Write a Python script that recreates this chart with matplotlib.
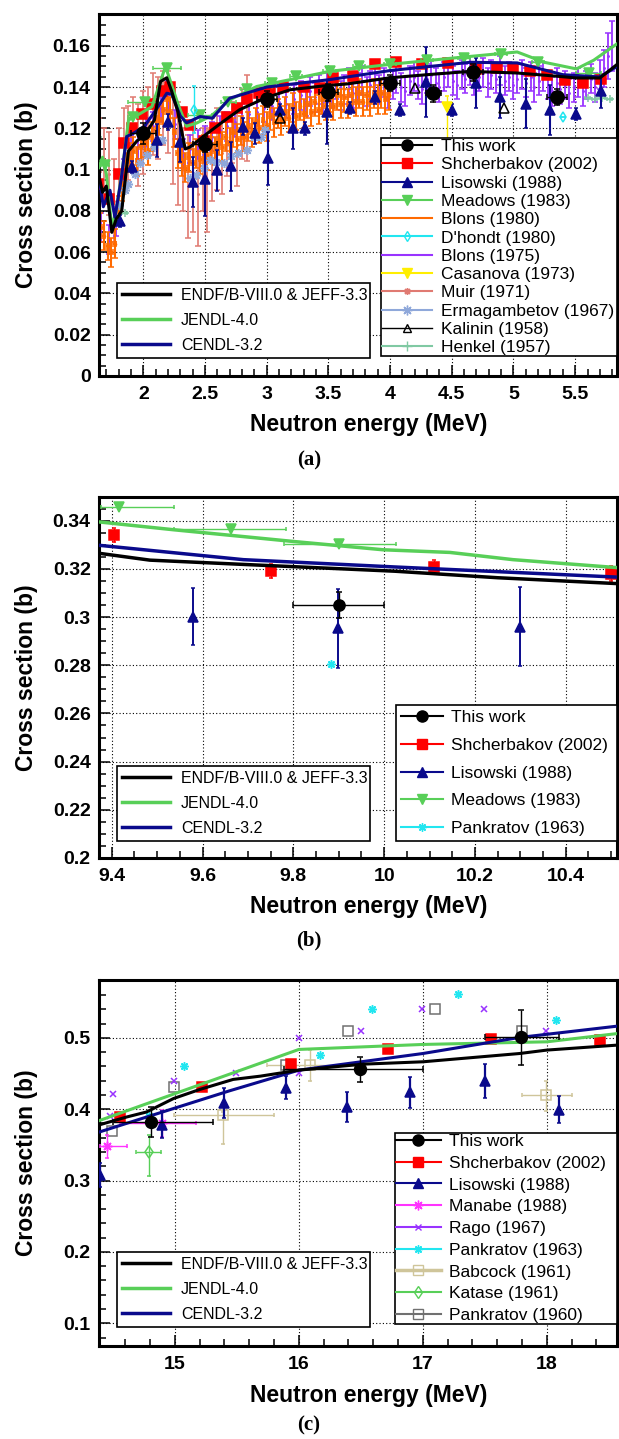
import matplotlib
matplotlib.use('Agg')
import matplotlib.pyplot as plt
from matplotlib.lines import Line2D
from matplotlib.legend import Legend
from matplotlib.ticker import MultipleLocator, FuncFormatter

plt.rcParams.update({'font.family': 'Liberation Sans', 'font.weight': 'bold',
                     'axes.labelweight': 'bold'})

NAVY = '#0A0A8C'
GREEN = '#58CF58'
RED = '#FF0000'
ORANGE = '#FF6A00'
PURPLE = '#9933FF'
CYAN = '#22E6F0'
YELLOW = '#FFEE00'
SALMON = '#E07A72'
STEEL = '#8FA8DA'
MINT = '#80C9A3'
MAGENTA = '#FF33FF'
KHAKI = '#CFC59A'
GREY = '#707070'
ASTER = (8, 2, 0)

# ---------------- panel (a) ----------------
a_endf_e = [1.64, 1.67, 1.70, 1.745, 1.78, 1.825, 1.88, 1.95, 2.00, 2.09, 2.14, 2.19, 2.23,
            2.28, 2.34, 2.38, 2.50, 2.645, 2.78, 2.985, 3.19, 3.45, 3.65, 4.00, 4.30, 4.65,
            5.03, 5.20, 5.40, 5.51, 5.70, 5.84]
a_endf_y = [0.097, 0.089, 0.092, 0.0696, 0.076, 0.080, 0.109, 0.114, 0.116, 0.124, 0.1427,
            0.1445, 0.138, 0.128, 0.110, 0.111, 0.1167, 0.1232, 0.129, 0.1346, 0.1387, 0.1405,
            0.1415, 0.1445, 0.146, 0.1476, 0.1468, 0.146, 0.145, 0.1444, 0.1444, 0.151]
a_jendl_e = [1.64, 1.67, 1.70, 1.745, 1.78, 1.83, 1.88, 1.97, 2.07, 2.18, 2.28, 2.35, 2.43,
             2.55, 2.70, 2.92, 3.19, 3.51, 4.00, 4.50, 5.03, 5.25, 5.51, 5.65, 5.84]
a_jendl_y = [0.101, 0.106, 0.098, 0.072, 0.080, 0.100, 0.124, 0.127, 0.1305, 0.150, 0.132,
             0.121, 0.1225, 0.126, 0.1338, 0.1403, 0.1436, 0.1476, 0.151, 0.154, 0.157, 0.152,
             0.1488, 0.153, 0.161]
a_cendl_e = [1.64, 1.676, 1.73, 1.77, 1.82, 1.865, 1.92, 2.01, 2.12, 2.19, 2.23, 2.30, 2.35,
             2.46, 2.56, 2.70, 3.00, 3.51, 4.00, 4.65, 5.03, 5.40, 5.70, 5.84]
a_cendl_y = [0.097, 0.082, 0.090, 0.0769, 0.095, 0.116, 0.1176, 0.121, 0.1305, 0.137, 0.1365,
             0.126, 0.1227, 0.1257, 0.1249, 0.1346, 0.140, 0.1436, 0.148, 0.152, 0.1517, 0.146,
             0.1449, 0.150]

a_this_e = [2.0, 2.5, 3.0, 3.5, 4.0, 4.35, 4.67, 5.35]
a_this_y = [0.1176, 0.1123, 0.1343, 0.1374, 0.1420, 0.1370, 0.1471, 0.1351]
a_this_dx = [0.1, 0.1, 0.08, 0.08, 0.08, 0.06, 0.08, 0.08]
a_this_dy = [0.005, 0.004, 0.004, 0.004, 0.004, 0.004, 0.004, 0.004]

a_shch_e = [1.63, 1.72, 1.80, 1.84, 1.91, 1.99, 2.07, 2.15, 2.22, 2.31, 2.38, 2.49, 2.58, 2.68,
            2.76, 2.84, 2.94, 3.03, 3.13, 3.30, 3.43, 3.54, 3.70, 3.88, 4.05, 4.26, 4.47, 4.70,
            4.87, 5.00, 5.13, 5.27, 5.42, 5.56, 5.71]
a_shch_y = [0.093, 0.086, 0.098, 0.113, 0.120, 0.127, 0.132, 0.138, 0.140, 0.128, 0.1216, 0.114,
            0.120, 0.1257, 0.130, 0.134, 0.137, 0.1387, 0.140, 0.140, 0.1395, 0.1444, 0.1455,
            0.1514, 0.152, 0.151, 0.1517, 0.1488, 0.1493, 0.149, 0.148, 0.146, 0.1436, 0.142,
            0.1439]

a_lis_e = [1.81, 1.906, 2.11, 2.20, 2.30, 2.405, 2.50, 2.60, 2.71, 2.805, 2.905, 3.01, 3.11,
           3.21, 3.31, 3.486, 3.675, 3.878, 4.08, 4.29, 4.50, 4.70, 4.89, 5.10, 5.30, 5.51, 5.71]
a_lis_y = [0.075, 0.1013, 0.1143, 0.123, 0.1135, 0.094, 0.0956, 0.0997, 0.1016, 0.1208, 0.1176,
           0.1054, 0.129, 0.120, 0.120, 0.1278, 0.1298, 0.135, 0.129, 0.1425, 0.129, 0.142,
           0.135, 0.132, 0.129, 0.127, 0.138]
a_lis_dy = [0.003, 0.003, 0.008, 0.004, 0.01, 0.012, 0.018, 0.01, 0.012, 0.004, 0.005, 0.013,
            0.003, 0.01, 0.003, 0.0155, 0.003, 0.003, 0.003, 0.017, 0.003, 0.012, 0.01, 0.012,
            0.012, 0.003, 0.008]

a_mea_e = [1.69, 1.92, 2.01, 2.19, 2.46, 2.69, 2.84, 3.04, 3.24, 3.51, 3.75, 4.00, 4.30, 4.60,
           4.90, 5.20, 5.61]
a_mea_y = [0.102, 0.1257, 0.133, 0.1493, 0.1265, 0.133, 0.139, 0.1422, 0.1452, 0.1476, 0.150,
           0.151, 0.153, 0.154, 0.156, 0.152, 0.1468]
a_mea_dx = [0.03, 0.04, 0.13, 0.115, 0.1, 0.06, 0.05, 0.05, 0.05, 0.05, 0.05, 0.05, 0.05, 0.05,
            0.05, 0.05, 0.1]

b80_e = [1.65, 1.68, 1.71, 1.74, 1.77, 1.80, 1.83, 1.86, 1.89, 1.92,
         1.95, 1.98, 2.01, 2.04, 2.07, 2.10, 2.13, 2.16, 2.19, 2.22,
         2.25, 2.28, 2.31, 2.34, 2.37, 2.40, 2.43, 2.46, 2.49, 2.52,
         2.55, 2.58, 2.61, 2.64, 2.67, 2.70, 2.73, 2.76, 2.79, 2.82,
         2.85, 2.88, 2.91, 2.94, 2.97, 3.00, 3.03, 3.06, 3.09, 3.12,
         3.15, 3.18, 3.21, 3.24, 3.27, 3.30, 3.33, 3.36, 3.39, 3.42,
         3.45, 3.48, 3.51, 3.54, 3.57, 3.60, 3.63, 3.66, 3.69, 3.72,
         3.75, 3.78, 3.81, 3.84, 3.87, 3.90, 3.93, 3.96, 3.99]
b80_y = [0.072, 0.068, 0.063, 0.060, 0.064, 0.080, 0.092, 0.101, 0.106, 0.109,
         0.104, 0.111, 0.113, 0.109, 0.116, 0.119, 0.124, 0.129, 0.134, 0.128,
         0.118, 0.108, 0.104, 0.101, 0.106, 0.103, 0.108, 0.105, 0.110, 0.107,
         0.112, 0.109, 0.114, 0.111, 0.116, 0.113, 0.118, 0.115, 0.119, 0.116,
         0.121, 0.118, 0.123, 0.120, 0.124, 0.121, 0.126, 0.123, 0.127, 0.124,
         0.128, 0.125, 0.130, 0.126, 0.131, 0.127, 0.132, 0.128, 0.133, 0.129,
         0.134, 0.131, 0.135, 0.131, 0.136, 0.132, 0.135, 0.132, 0.136, 0.133,
         0.137, 0.133, 0.136, 0.133, 0.137, 0.134, 0.137, 0.134, 0.136]

b75_e = [1.66, 1.72, 1.78, 1.84, 1.90, 1.96, 2.02, 2.08, 2.14, 2.20, 2.26, 2.32, 2.38, 2.44,
         2.50, 2.56, 2.62, 2.68, 2.74, 2.80, 2.86, 2.92, 2.98, 3.04, 3.10, 3.16, 3.22,
         3.28, 3.32, 3.35, 3.39, 3.42, 3.46, 3.49, 3.53, 3.56, 3.60,
         3.63, 3.67, 3.70, 3.74, 3.77, 3.81, 3.84, 3.88, 3.91, 3.95,
         3.98, 4.02, 4.05, 4.09, 4.12, 4.16, 4.19, 4.23, 4.26, 4.30,
         4.33, 4.37, 4.40, 4.44, 4.47, 4.51, 4.54, 4.58, 4.61, 4.65,
         4.68, 4.72, 4.75, 4.79, 4.82, 4.86, 4.89, 4.93, 4.96, 5.00,
         5.03, 5.07, 5.10, 5.14, 5.17, 5.21, 5.24, 5.28, 5.31, 5.35,
         5.38, 5.42, 5.45, 5.49, 5.52, 5.56, 5.59, 5.63, 5.66, 5.70,
         5.73, 5.77, 5.80]
b75_y = [0.072, 0.066, 0.075, 0.098, 0.110, 0.112, 0.118, 0.121, 0.130, 0.136, 0.122, 0.108,
         0.110, 0.112, 0.114, 0.116, 0.119, 0.121, 0.123, 0.125, 0.127, 0.128, 0.130, 0.131,
         0.133, 0.132, 0.134,
         0.136, 0.133, 0.138, 0.135, 0.139, 0.134, 0.140, 0.137, 0.141, 0.136,
         0.139, 0.142, 0.137, 0.140, 0.143, 0.138, 0.141, 0.144, 0.139, 0.142,
         0.137, 0.141, 0.144, 0.140, 0.138, 0.143, 0.145, 0.141, 0.139, 0.144,
         0.146, 0.142, 0.140, 0.145, 0.147, 0.143, 0.141, 0.146, 0.144, 0.148,
         0.143, 0.145, 0.147, 0.142, 0.146, 0.144, 0.148, 0.143, 0.145, 0.141,
         0.144, 0.146, 0.142, 0.145, 0.140, 0.143, 0.145, 0.141, 0.138, 0.142,
         0.139, 0.141, 0.137, 0.140, 0.142, 0.138, 0.141, 0.144, 0.140, 0.146,
         0.149, 0.155, 0.160]
b75_dy = [0.007] * 97 + [0.009, 0.011, 0.012]

muir_e = [1.64, 1.68, 1.72, 1.76, 1.80, 1.84, 1.88, 1.92, 1.96, 2.00, 2.04, 2.08, 2.12, 2.16,
          2.20, 2.24, 2.28, 2.32, 2.36, 2.40, 2.44, 2.48, 2.52, 2.56, 2.60, 2.64, 2.68, 2.72,
          2.76, 2.80, 2.84]
muir_y = [0.112, 0.105, 0.098, 0.085, 0.100, 0.110, 0.113, 0.118, 0.112, 0.118, 0.123, 0.127,
          0.125, 0.130, 0.128, 0.115, 0.108, 0.100, 0.092, 0.095, 0.088, 0.100, 0.095, 0.105,
          0.110, 0.108, 0.112, 0.118, 0.112, 0.122, 0.125]
muir_dy = [0.013, 0.015, 0.020, 0.020, 0.020, 0.020, 0.018, 0.017, 0.020, 0.020, 0.017, 0.020,
           0.020, 0.018, 0.020, 0.022, 0.025, 0.020, 0.025, 0.025, 0.025, 0.020, 0.025, 0.020,
           0.020, 0.020, 0.015, 0.015, 0.020, 0.017, 0.021]

dho_e = [2.41, 5.40]
dho_y = [0.129, 0.1257]
dho_dy = [0.0115, 0.0]

cas_e = [4.46]
cas_y = [0.1305]
cas_dy = [[0.02], [0.005]]

erm_e = [1.80, 1.85, 1.88, 1.93, 1.97, 2.03, 2.09, 2.15, 2.38, 2.43, 2.49, 2.54, 2.59, 2.65,
         2.71, 2.77, 2.84, 2.90, 2.95, 2.99]
erm_y = [0.083, 0.090, 0.093, 0.098, 0.103, 0.107, 0.111, 0.1143, 0.096, 0.0972, 0.101, 0.1045,
         0.1037, 0.103, 0.1065, 0.108, 0.1094, 0.116, 0.1159, 0.119]

kal_e = [3.11, 4.20, 4.92]
kal_y = [0.1249, 0.1395, 0.1298]

hen_e = [1.63, 1.85, 5.60, 5.66, 5.72, 5.78]
hen_y = [0.116, 0.079, 0.1346, 0.1343, 0.1346, 0.1343]

# ---------------- panel (b) ----------------
b_endf_e = [9.37, 9.484, 9.693, 10.024, 10.25, 10.52]
b_endf_y = [0.3265, 0.3236, 0.3218, 0.3190, 0.3163, 0.3138]
b_jendl_e = [9.37, 9.537, 9.797, 9.998, 10.145, 10.284, 10.52]
b_jendl_y = [0.3395, 0.3362, 0.3314, 0.3279, 0.3268, 0.3238, 0.3204]
b_cendl_e = [9.37, 9.69, 10.02, 10.52]
b_cendl_y = [0.3298, 0.3238, 0.3208, 0.3165]

b_this_e = [9.90]
b_this_y = [0.305]
b_this_dx = [0.1]
b_this_dy = [0.0055]
b_shch_e = [9.404, 9.75, 10.11, 10.50]
b_shch_y = [0.3341, 0.319, 0.3208, 0.318]
b_shch_dy = [0.003, 0.003, 0.003, 0.003]
b_lis_e = [9.579, 9.899, 10.30]
b_lis_y = [0.3002, 0.2953, 0.2960]
b_lis_dy = [0.0118, 0.0165, 0.0164]
b_mea_e = [9.417, 9.663, 9.90]
b_mea_y = [0.3458, 0.3365, 0.3304]
b_mea_dx = [[0.041, 0.125, 0.12], [0.121, 0.121, 0.126]]
b_p63_e = [9.883]
b_p63_y = [0.2803]

# ---------------- panel (c) ----------------
c_endf_e = [14.39, 14.61, 14.77, 14.99, 15.2, 15.47, 15.69, 16.0, 16.52, 17.0, 17.78, 18.0, 18.57]
c_endf_y = [0.378, 0.389, 0.396, 0.415, 0.4276, 0.4417, 0.4463, 0.4547, 0.4631, 0.4664, 0.478,
            0.4828, 0.4898]
c_jendl_e = [14.39, 16.0, 17.0, 18.0, 18.57]
c_jendl_y = [0.384, 0.4837, 0.4907, 0.4944, 0.506]
c_cendl_e = [14.39, 14.99, 15.44, 16.0, 17.0, 17.78, 18.57]
c_cendl_y = [0.368, 0.401, 0.4257, 0.4547, 0.478, 0.5005, 0.5164]

c_this_e = [14.81, 16.49, 17.79]
c_this_y = [0.3822, 0.4557, 0.5005]
c_this_dx = [[0.31, 0.61, 0.29], [0.50, 0.51, 0.31]]
c_this_dy = [0.021, 0.0175, 0.039]
c_shch_e = [14.56, 15.215, 15.94, 16.72, 17.55, 18.43]
c_shch_y = [0.389, 0.431, 0.464, 0.484, 0.498, 0.497]
c_lis_e = [14.395, 14.90, 15.395, 15.895, 16.39, 16.895, 17.498, 18.097]
c_lis_y = [0.3075, 0.3785, 0.408, 0.430, 0.403, 0.4235, 0.440, 0.3995]
c_lis_dy = [0.0165, 0.0195, 0.021, 0.016, 0.021, 0.0215, 0.024, 0.0185]
c_man_e = [14.45, 14.90]
c_man_y = [0.348, 0.380]
c_man_dx = [[0.055, 0.34], [0.16, 0.27]]
c_man_dy = [0.0157, 0.019]
c_rago_e = [14.48, 14.50, 14.995, 15.49, 16.0, 16.0, 16.5, 16.995, 17.49, 17.99]
c_rago_y = [0.391, 0.4206, 0.4397, 0.450, 0.500, 0.450, 0.510, 0.540, 0.540, 0.510]
c_p63_e = [14.79, 15.07, 16.17, 16.59, 17.28, 18.07]
c_p63_y = [0.390, 0.460, 0.4757, 0.540, 0.561, 0.525]
c_bab_e = [15.39, 16.09, 17.99]
c_bab_y = [0.3916, 0.4617, 0.4196]
c_bab_dx = [[0.40, 0.35, 0.19], [0.41, 0.36, 0.21]]
c_bab_dy = [[0.04, 0.022, 0.022], [0.005, 0.021, 0.020]]
c_kat_e = [14.79]
c_kat_y = [0.340]
c_kat_dx = [0.1]
c_kat_dy = [[0.034], [0.0235]]
c_p60_e = [14.49, 14.99, 15.90, 16.40, 17.10, 17.80]
c_p60_y = [0.369, 0.4304, 0.462, 0.510, 0.540, 0.510]

EVAL_LABELS = ['ENDF/B-VIII.0 & JEFF-3.3', 'JENDL-4.0', 'CENDL-3.2']


def style_axes(ax, xlim, ylim, xmaj, xmin, ymaj, ymin):
    ax.set_xlim(*xlim)
    ax.set_ylim(*ylim)
    ax.xaxis.set_major_locator(MultipleLocator(xmaj))
    ax.xaxis.set_minor_locator(MultipleLocator(xmin))
    ax.yaxis.set_major_locator(MultipleLocator(ymaj))
    ax.yaxis.set_minor_locator(MultipleLocator(ymin))
    fmt = FuncFormatter(lambda v, p: f'{v:g}')
    ax.xaxis.set_major_formatter(fmt)
    ax.yaxis.set_major_formatter(fmt)
    ax.grid(True, which='major', color='black', linestyle=(0, (1, 2)), linewidth=0.8)
    ax.set_axisbelow(True)
    ax.tick_params(which='both', direction='in', width=1.1, labelsize=14)
    ax.tick_params(axis='x', which='major', length=8, pad=7)
    ax.tick_params(axis='y', which='major', length=8, pad=6)
    ax.tick_params(which='minor', length=5)
    for s in ax.spines.values():
        s.set_linewidth(2.2)
    ax.set_xlabel('Neutron energy (MeV)', fontsize=16.5)
    ax.set_ylabel('Cross section (b)', fontsize=16.5)
    ax.xaxis.set_label_coords(0.52, -0.103)
    ax.yaxis.set_label_coords(-0.118, 0.5)


def pts(ax, x, y, color, marker, ms, dy=None, dx=None, open_=False, z=3, lw=1.0, cap=1.5):
    ax.errorbar(x, y, yerr=dy, xerr=dx, fmt='', marker=marker, linestyle='none',
                color=color, ms=ms, mfc='none' if open_ else color, mec=color, mew=1.1,
                elinewidth=lw, capsize=cap, capthick=lw, zorder=z)


def handle(color, marker=None, ms=6, open_=False, lw=1.5):
    return Line2D([], [], color=color, marker=marker, ms=ms, lw=lw, mec=color,
                  mfc='none' if open_ else color)


def add_legend(ax, handles, labels, x0, ytop, w, fs, hl, bp, ls, htp=0.5):
    leg = Legend(ax, handles, labels, loc='upper left', bbox_to_anchor=(x0, ytop, w, 0),
                 mode='expand', borderaxespad=0, prop={'size': fs, 'weight': 'normal'},
                 handlelength=hl, handletextpad=htp, borderpad=bp, labelspacing=ls,
                 numpoints=1, frameon=True, fancybox=False, framealpha=1, edgecolor='black')
    leg.get_frame().set_linewidth(1.2)
    leg.set_zorder(10)
    ax.add_artist(leg)


def eval_legend(ax, ytop):
    hs = [handle('black', lw=2.5), handle(GREEN, lw=2.5), handle(NAVY, lw=2.5)]
    add_legend(ax, hs, EVAL_LABELS, 0.035, ytop, 0.489, 11.5, 3.0, 0.31, 0.63, htp=0.7)


fig = plt.figure(figsize=(6.19, 14.39), dpi=100)
W, H = 619, 1439
ax_a = fig.add_axes([99 / W, 1 - 376 / H, 518 / W, 362 / H])
ax_b = fig.add_axes([99 / W, 1 - 858 / H, 518 / W, 361 / H])
ax_c = fig.add_axes([99 / W, 1 - 1346 / H, 518 / W, 366 / H])

# ---- (a)
ax = ax_a
pts(ax, b75_e, b75_y, PURPLE, '.', 2, dy=b75_dy, cap=2, lw=1.3, z=1.9)
pts(ax, muir_e, muir_y, SALMON, '.', 2, dy=muir_dy, cap=2.2, lw=1.2, z=1.8)
pts(ax, b80_e, b80_y, ORANGE, '.', 3, dy=0.007, dx=0.012, cap=2.2, lw=1.5, z=2)
pts(ax, erm_e, erm_y, STEEL, ASTER, 6.5, z=2.1)
pts(ax, hen_e, hen_y, MINT, '+', 6, dx=0.02, z=2.1)
pts(ax, a_shch_e, a_shch_y, RED, 's', 6.5, z=2.5)
pts(ax, a_lis_e, a_lis_y, NAVY, '^', 6.5, dy=a_lis_dy, lw=1.5, z=2.6)
pts(ax, a_mea_e, a_mea_y, GREEN, 'v', 6.5, dx=a_mea_dx, z=2.6)
pts(ax, dho_e, dho_y, CYAN, 'd', 5, dy=dho_dy, open_=True, z=2.6)
pts(ax, cas_e, cas_y, YELLOW, 'v', 6.5, dy=cas_dy, z=2.6)
pts(ax, kal_e, kal_y, 'black', '^', 6.5, open_=True, z=2.6)
ax.plot(a_jendl_e, a_jendl_y, color=GREEN, lw=2.2, zorder=4)
ax.plot(a_cendl_e, a_cendl_y, color=NAVY, lw=2.2, zorder=4)
ax.plot(a_endf_e, a_endf_y, color='black', lw=2.2, zorder=4)
pts(ax, a_this_e, a_this_y, 'black', 'o', 9.5, dy=a_this_dy, dx=a_this_dx, z=5, cap=2)
style_axes(ax, (1.641, 5.839), (0, 0.1754), 0.5, 0.1, 0.02, 0.005)
eval_legend(ax, 0.257)
hs = [handle('black', 'o', 8), handle(RED, 's', 6.5), handle(NAVY, '^', 6.5),
      handle(GREEN, 'v', 6.5), handle(ORANGE), handle(CYAN, 'd', 5, open_=True),
      handle(PURPLE), handle(YELLOW, 'v', 6.5), handle(SALMON, ASTER, 5),
      handle(STEEL, ASTER, 7), handle('black', '^', 6, open_=True, lw=1.0),
      handle(MINT, '+', 7)]
labs = ['This work', 'Shcherbakov (2002)', 'Lisowski (1988)', 'Meadows (1983)', 'Blons (1980)',
        "D'hondt (1980)", 'Blons (1975)', 'Casanova (1973)', 'Muir (1971)',
        'Ermagambetov (1967)', 'Kalinin (1958)', 'Henkel (1957)']
add_legend(ax, hs, labs, 0.544, 0.657, 0.456, 12.5, 2.9, 0.05, 0.18)

# ---- (b)
ax = ax_b
pts(ax, b_shch_e, b_shch_y, RED, 's', 6.5, dy=b_shch_dy, z=3)
pts(ax, b_lis_e, b_lis_y, NAVY, '^', 6.5, dy=b_lis_dy, lw=1.4, z=3)
pts(ax, b_mea_e, b_mea_y, GREEN, 'v', 6.5, dx=b_mea_dx, z=3)
pts(ax, b_p63_e, b_p63_y, CYAN, ASTER, 6, z=3)
ax.plot(b_jendl_e, b_jendl_y, color=GREEN, lw=2.5, zorder=4)
ax.plot(b_cendl_e, b_cendl_y, color=NAVY, lw=2.5, zorder=4)
ax.plot(b_endf_e, b_endf_y, color='black', lw=2.5, zorder=4)
pts(ax, b_this_e, b_this_y, 'black', 'o', 8, dy=b_this_dy, dx=b_this_dx, z=5, cap=2)
style_axes(ax, (9.372, 10.513), (0.2, 0.3498), 0.2, 0.05, 0.02, 0.005)
eval_legend(ax, 0.255)
hs = [handle('black', 'o', 8), handle(RED, 's', 6.5), handle(NAVY, '^', 6.5),
      handle(GREEN, 'v', 6.5), handle(CYAN, ASTER, 6)]
labs = ['This work', 'Shcherbakov (2002)', 'Lisowski (1988)', 'Meadows (1983)',
        'Pankratov (1963)']
add_legend(ax, hs, labs, 0.573, 0.424, 0.427, 12.5, 2.4, 0.3, 0.72)

# ---- (c)
ax = ax_c
pts(ax, c_p60_e, c_p60_y, GREY, 's', 6.5, open_=True, z=2.5)
pts(ax, c_kat_e, c_kat_y, GREEN, 'd', 6, dx=c_kat_dx, dy=c_kat_dy, open_=True, z=2.5)
pts(ax, c_bab_e, c_bab_y, KHAKI, 's', 7, dx=c_bab_dx, dy=c_bab_dy, open_=True, z=2.5)
pts(ax, c_p63_e, c_p63_y, CYAN, ASTER, 6, z=2.5)
pts(ax, c_rago_e, c_rago_y, PURPLE, 'x', 5, z=2.5)
pts(ax, c_man_e, c_man_y, MAGENTA, ASTER, 7, dx=c_man_dx, dy=c_man_dy, z=2.6)
pts(ax, c_lis_e, c_lis_y, NAVY, '^', 6.5, dy=c_lis_dy, lw=1.6, z=2.7)
pts(ax, c_shch_e, c_shch_y, RED, 's', 6.5, z=2.7)
ax.plot(c_jendl_e, c_jendl_y, color=GREEN, lw=2.2, zorder=4)
ax.plot(c_cendl_e, c_cendl_y, color=NAVY, lw=2.2, zorder=4)
ax.plot(c_endf_e, c_endf_y, color='black', lw=2.2, zorder=4)
pts(ax, c_this_e, c_this_y, 'black', 'o', 8.5, dy=c_this_dy, dx=c_this_dx, z=5, cap=2)
style_axes(ax, (14.388, 18.566), (0.0682, 0.581), 1, 0.2, 0.1, 0.02)
eval_legend(ax, 0.257)
hs = [handle('black', 'o', 8), handle(RED, 's', 6.5), handle(NAVY, '^', 6.5),
      handle(MAGENTA, ASTER, 7), handle(PURPLE, 'x', 5), handle(CYAN, ASTER, 6),
      handle(KHAKI, 's', 7, open_=True, lw=2.5), handle(GREEN, 'd', 6, open_=True),
      handle(GREY, 's', 6.5, open_=True)]
labs = ['This work', 'Shcherbakov (2002)', 'Lisowski (1988)', 'Manabe (1988)', 'Rago (1967)',
        'Pankratov (1963)', 'Babcock (1961)', 'Katase (1961)', 'Pankratov (1960)']
add_legend(ax, hs, labs, 0.571, 0.582, 0.429, 12.5, 2.6, 0.05, 0.38)

for lab, yy in [('(a)', 460), ('(b)', 940), ('(c)', 1425)]:
    fig.text(309 / W, 1 - yy / H, lab, ha='center', va='center', fontsize=15,
             family='Liberation Serif', weight='bold')

fig.savefig('out.png', dpi=100, facecolor='white')
